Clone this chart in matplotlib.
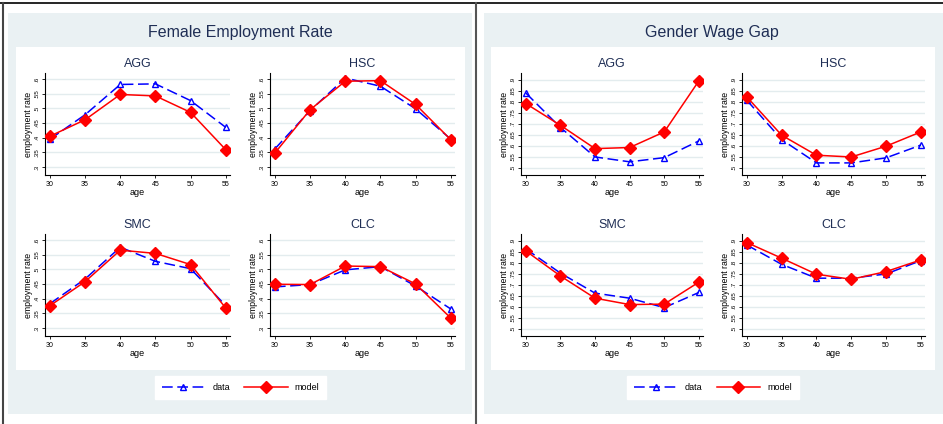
import numpy as np
import matplotlib
matplotlib.use('Agg')
import matplotlib.pyplot as plt
from matplotlib.patches import Rectangle
from matplotlib.lines import Line2D

plt.rcParams['font.family'] = ['Liberation Sans', 'DejaVu Sans']

# ---- data ----------------------------------------------------------------
ages = [30, 35, 40, 45, 50, 55]
groups = ["AGG", "HSC", "SMC", "CLC"]

# female employment rate
emp_data = {
    "AGG": [0.395, 0.478, 0.581, 0.583, 0.526, 0.435],
    "HSC": [0.362, 0.492, 0.603, 0.575, 0.498, 0.395],
    "SMC": [0.383, 0.467, 0.575, 0.527, 0.502, 0.376],
    "CLC": [0.440, 0.448, 0.498, 0.509, 0.443, 0.365],
}
emp_model = {
    "AGG": [0.405, 0.461, 0.547, 0.542, 0.486, 0.359],
    "HSC": [0.348, 0.495, 0.592, 0.594, 0.513, 0.393],
    "SMC": [0.376, 0.458, 0.565, 0.554, 0.516, 0.368],
    "CLC": [0.449, 0.448, 0.511, 0.509, 0.450, 0.334],
}
emp_ticks = [0.3, 0.35, 0.4, 0.45, 0.5, 0.55, 0.6]
emp_ticklabels = [".3", ".35", ".4", ".45", ".5", ".55", ".6"]

# gender wage gap
gap_data = {
    "AGG": [0.839, 0.682, 0.548, 0.526, 0.545, 0.621],
    "HSC": [0.806, 0.627, 0.521, 0.521, 0.544, 0.602],
    "SMC": [0.862, 0.752, 0.661, 0.638, 0.595, 0.664],
    "CLC": [0.880, 0.792, 0.729, 0.729, 0.748, 0.809],
}
gap_model = {
    "AGG": [0.791, 0.692, 0.586, 0.591, 0.662, 0.894],
    "HSC": [0.821, 0.647, 0.556, 0.548, 0.597, 0.662],
    "SMC": [0.853, 0.739, 0.638, 0.609, 0.611, 0.711],
    "CLC": [0.891, 0.820, 0.747, 0.724, 0.759, 0.812],
}
gap_ticks = [0.5, 0.55, 0.6, 0.65, 0.7, 0.75, 0.8, 0.85, 0.9]
gap_ticklabels = [".5", ".55", ".6", ".65", ".7", ".75", ".8", ".85", ".9"]

# ---- layout helpers (pixel coords) ---------------------------------------
W, H = 943, 424
BG = "#EAF1F3"
GRID = "#E3ECEE"
TITLE_C = "#1F2E55"

fig = plt.figure(figsize=(W/100, H/100), dpi=100)
fig.patch.set_facecolor("white")

def rect(x0, y0, x1, y1, **kw):
    fig.patches.append(Rectangle((x0/W, 1 - y1/H), (x1-x0)/W, (y1-y0)/H,
                                 transform=fig.transFigure, zorder=-5, **kw))

def px_axes(x0, y0, x1, y1):
    return fig.add_axes([x0/W, 1 - y1/H, (x1-x0)/W, (y1-y0)/H])

# frame lines
fig.add_artist(Line2D([0, 1], [1 - 2.5/H]*2, color="black", lw=1.2,
                      transform=fig.transFigure, zorder=-4))
fig.add_artist(Line2D([3/W]*2, [0, 1 - 2.5/H], color="#444444", lw=1.5,
                      transform=fig.transFigure, zorder=-4))
fig.add_artist(Line2D([476/W]*2, [0, 1 - 2.5/H], color="#555555", lw=1.5,
                      transform=fig.transFigure, zorder=-4))

# panel backgrounds
rect(8, 13, 472, 414, facecolor=BG, edgecolor="none")
rect(484, 13, 943, 414, facecolor=BG, edgecolor="none")
rect(16, 47, 465, 370, facecolor="white", edgecolor="none")
rect(491, 47, 935, 370, facecolor="white", edgecolor="none")

fig.text(240/W, 1 - 33/H, "Female Employment Rate", ha="center", va="center",
         fontsize=11.5, color=TITLE_C)
fig.text(712/W, 1 - 33/H, "Gender Wage Gap", ha="center", va="center",
         fontsize=11.5, color=TITLE_C)


def draw_panel(ax, name, dvals, mvals, ticks, ticklabels, ylim):
    ax.set_facecolor("white")
    for t in ticks:
        ax.axhline(t, color=GRID, lw=1.0, zorder=0)
    ax.plot(ages, dvals, color="#0000FF", lw=1.1, ls=(0, (7, 3)),
            marker="^", ms=5, mfc="none", mec="#0000FF", mew=1.0, zorder=3)
    ax.plot(ages, mvals, color="#FF0000", lw=1.1, ls="-",
            marker="D", ms=6, mfc="#FF0000", mec="#FF0000", zorder=4)
    ax.set_xlim(29.3, 55.6)
    ax.set_ylim(*ylim)
    ax.set_xticks(ages)
    ax.set_xticklabels([str(a) for a in ages], fontsize=5)
    ax.set_yticks(ticks)
    ax.set_yticklabels(ticklabels, fontsize=4.5, rotation=90, va="center")
    ax.spines["top"].set_visible(False)
    ax.spines["right"].set_visible(False)
    ax.spines["left"].set_linewidth(0.8)
    ax.spines["bottom"].set_linewidth(0.8)
    ax.tick_params(length=2.5, width=0.6, pad=1.5)
    ax.set_xlabel("age", fontsize=6.5, labelpad=0.5)
    ax.set_ylabel("employment rate", fontsize=6.3, labelpad=1)
    ax.set_title(name, fontsize=9, color=TITLE_C, pad=4)


pos_left = {
    "AGG": (45, 73, 230, 175), "HSC": (270, 73, 455, 175),
    "SMC": (45, 234, 230, 336), "CLC": (270, 234, 455, 336),
}
pos_right = {
    "AGG": (521, 73, 703, 175), "HSC": (742, 73, 925, 175),
    "SMC": (521, 234, 703, 336), "CLC": (742, 234, 925, 336),
}

for g in groups:
    ax = px_axes(*pos_left[g])
    draw_panel(ax, g, emp_data[g], emp_model[g], emp_ticks, emp_ticklabels, (0.273, 0.62))
    ax = px_axes(*pos_right[g])
    draw_panel(ax, g, gap_data[g], gap_model[g], gap_ticks, gap_ticklabels, (0.466, 0.93))

# legends
handles = [
    Line2D([], [], color="#0000FF", lw=1.1, ls=(0, (7, 3)), marker="^", ms=5,
           mfc="none", mec="#0000FF"),
    Line2D([], [], color="#FF0000", lw=1.1, marker="D", ms=6, mfc="#FF0000"),
]
for cx in (240.5, 713):
    fig.legend(handles, ["data", "model"], loc="center", ncol=2,
               bbox_to_anchor=(cx/W, 1 - 387.5/H), frameon=True, fancybox=False,
               edgecolor="white", facecolor="white", fontsize=6.5,
               handlelength=4.8, columnspacing=1.6, handletextpad=0.8,
               borderpad=0.75, borderaxespad=0, framealpha=1)

fig.savefig("out.png", dpi=100, facecolor="white")
